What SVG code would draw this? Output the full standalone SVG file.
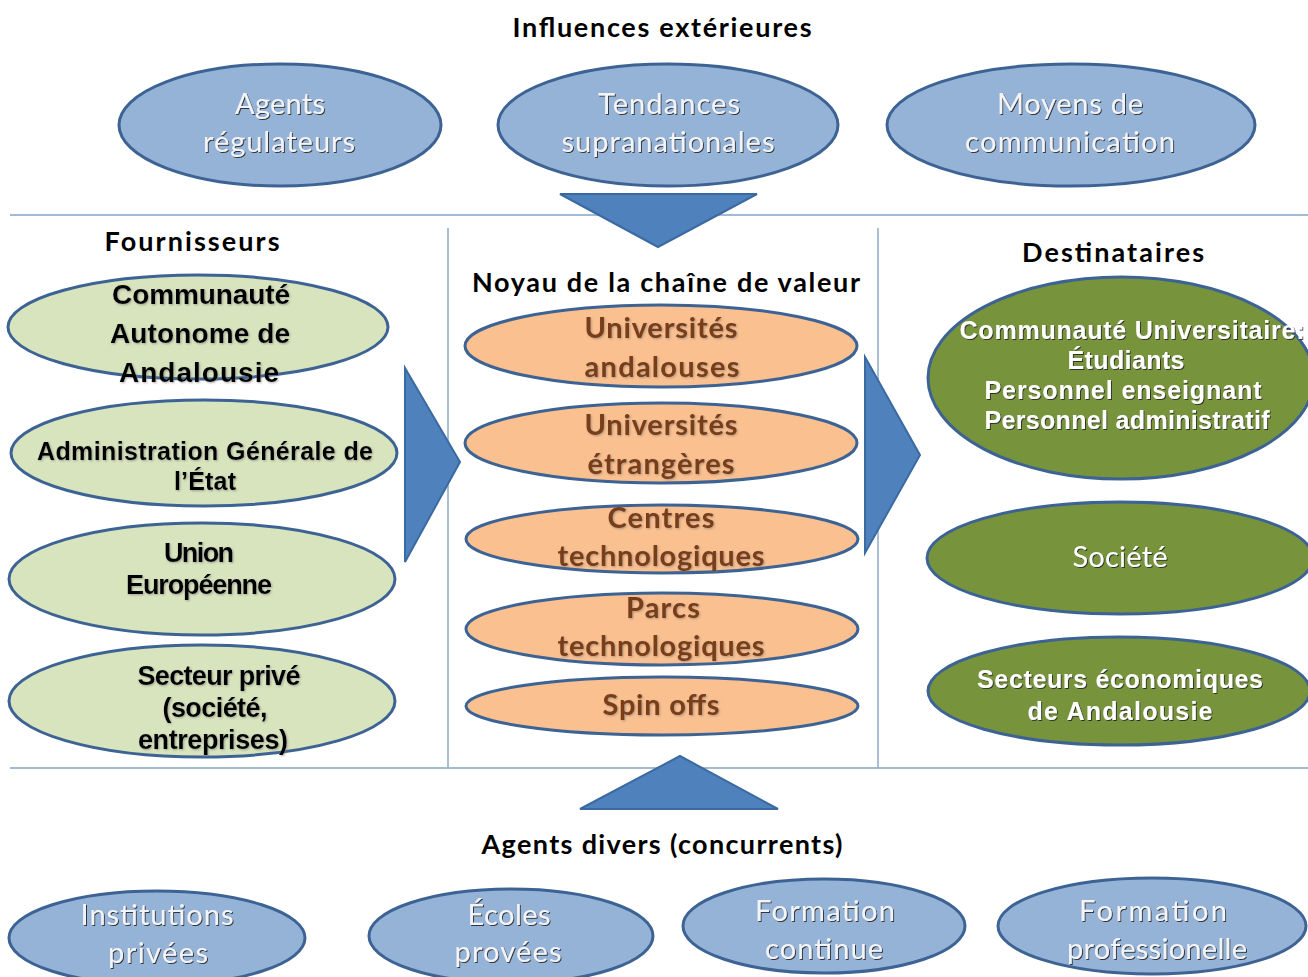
<svg xmlns="http://www.w3.org/2000/svg" width="1308" height="977" viewBox="0 0 1308 977">
<defs>
<filter id="emb" x="-10%" y="-20%" width="120%" height="140%"><feDropShadow dx="1" dy="1" stdDeviation="0.6" flood-color="#2a2a2a" flood-opacity="0.9"/></filter>
<filter id="sh" x="-10%" y="-20%" width="120%" height="140%"><feDropShadow dx="1" dy="1" stdDeviation="0.8" flood-color="#777" flood-opacity="0.6"/></filter>
</defs>
<style>
.blue{fill:#95b3d7;stroke:#3d6394;stroke-width:3}
.lg{fill:#d7e4bd;stroke:#3d6394;stroke-width:3}
.or{fill:#fac08f;stroke:#3d6394;stroke-width:3}
.ol{fill:#77933c;stroke:#3d6394;stroke-width:3}
.arr{fill:#4f81bd;stroke:#3b6aa2;stroke-width:2}
.sep{stroke:#a3bad5;stroke-width:2;fill:none}
.vsep{stroke:#8ea8c8;stroke-width:1.5;fill:none}
.title{font-family:Lato,"Open Sans",sans-serif;font-weight:bold;font-size:27px;fill:#000;text-anchor:middle}
.bt{font-family:Lato,"Open Sans",sans-serif;font-size:29px;fill:#f2f4f8;text-anchor:middle;filter:url(#emb)}
.gt{font-family:"Liberation Sans",Arial,sans-serif;font-weight:bold;font-size:27px;fill:#000;text-anchor:middle;filter:url(#sh)}
.ot{font-family:Lato,"Open Sans",sans-serif;font-weight:bold;font-size:29px;fill:#7a3c16;text-anchor:middle;filter:url(#sh)}
.wt{font-family:"Liberation Sans",Arial,sans-serif;font-weight:bold;font-size:25px;fill:#fff;text-anchor:middle;filter:url(#emb)}
.wc{font-family:Lato,"Open Sans",sans-serif;font-size:29px;fill:#fff;text-anchor:middle;filter:url(#emb)}
</style>
<rect width="1308" height="977" fill="#fff"/>

<g id="separators">
<line class="sep" x1="10" y1="215" x2="1308" y2="215"/>
<line class="sep" x1="10" y1="768" x2="1308" y2="768"/>
<line class="vsep" x1="448" y1="228" x2="448" y2="768"/>
<line class="vsep" x1="878" y1="228" x2="878" y2="768"/>
</g>

<g id="titles">
<text class="title" x="662" y="37" textLength="299">Influences extérieures</text>
<text class="title" x="192" y="251" textLength="175">Fournisseurs</text>
<text class="title" x="666" y="292" textLength="388">Noyau de la chaîne de valeur</text>
<text class="title" x="1113" y="262" textLength="182">Destinataires</text>
<text class="title" x="662" y="854" textLength="361">Agents divers (concurrents)</text>
</g>

<g id="connectors">
<polygon class="arr" points="560,194 757,194 658,247"/>
<polygon class="arr" points="580,809 778,809 680,756"/>
<polygon class="arr" points="405,368 460,462 405,562"/>
<polygon class="arr" points="865,357 920,455 865,553"/>
</g>

<g id="agents-regulateurs">
<ellipse class="blue" cx="280" cy="125" rx="161" ry="61"/>
<text class="bt" x="280" y="114" textLength="90">Agents</text>
<text class="bt" x="279" y="152" textLength="152">régulateurs</text>
</g>
<g id="tendances-supranationales">
<ellipse class="blue" cx="668" cy="125" rx="170" ry="61"/>
<text class="bt" x="669" y="114" textLength="142">Tendances</text>
<text class="bt" x="668" y="152" textLength="213">supranationales</text>
</g>
<g id="moyens-communication">
<ellipse class="blue" cx="1071" cy="125" rx="184" ry="61"/>
<text class="bt" x="1070" y="114" textLength="146">Moyens de</text>
<text class="bt" x="1070" y="152" textLength="210">communication</text>
</g>

<g id="communaute-autonome">
<ellipse class="lg" cx="198" cy="327" rx="190" ry="52"/>
<text class="gt" x="201" y="304" textLength="178" style="font-size:28px">Communauté</text>
<text class="gt" x="200" y="343" textLength="180" style="font-size:28px">Autonome de</text>
<text class="gt" x="199" y="382" textLength="160" style="font-size:28px">Andalousie</text>
</g>
<g id="administration-generale">
<ellipse class="lg" cx="204" cy="453" rx="193" ry="53"/>
<text class="gt" x="205" y="460" textLength="336" style="font-size:25px">Administration Générale de</text>
<text class="gt" x="205" y="490" textLength="62" style="font-size:25px">l’État</text>
</g>
<g id="union-europeenne">
<ellipse class="lg" cx="202" cy="579" rx="193" ry="56"/>
<text class="gt" x="199" y="562" textLength="70">Union</text>
<text class="gt" x="199" y="594" textLength="146">Européenne</text>
</g>
<g id="secteur-prive">
<ellipse class="lg" cx="202" cy="701" rx="193" ry="56"/>
<text class="gt" x="219" y="685" textLength="163">Secteur privé</text>
<text class="gt" x="215" y="717" textLength="105">(société,</text>
<text class="gt" x="213" y="749" textLength="150">entreprises)</text>
</g>

<g id="universites-andalouses">
<ellipse class="or" cx="661" cy="346" rx="196" ry="41"/>
<text class="ot" x="661" y="338" textLength="153">Universités</text>
<text class="ot" x="662" y="377" textLength="155">andalouses</text>
</g>
<g id="universites-etrangeres">
<ellipse class="or" cx="661" cy="443" rx="196" ry="40"/>
<text class="ot" x="661" y="435" textLength="153">Universités</text>
<text class="ot" x="661" y="474" textLength="147">étrangères</text>
</g>
<g id="centres-technologiques">
<ellipse class="or" cx="662" cy="539" rx="196" ry="34"/>
<text class="ot" x="661" y="528" textLength="107">Centres</text>
<text class="ot" x="661" y="566" textLength="207">technologiques</text>
</g>
<g id="parcs-technologiques">
<ellipse class="or" cx="662" cy="629" rx="196" ry="36"/>
<text class="ot" x="663" y="618" textLength="74">Parcs</text>
<text class="ot" x="661" y="656" textLength="207">technologiques</text>
</g>
<g id="spin-offs">
<ellipse class="or" cx="662" cy="706" rx="196" ry="29"/>
<text class="ot" x="661" y="715" textLength="117">Spin offs</text>
</g>

<g id="communaute-universitaire">
<ellipse class="ol" cx="1121" cy="378" rx="193" ry="101"/>
<text class="wt" x="1132" y="339" textLength="345">Communauté Universitaire:</text>
<text class="wt" x="1126" y="369" textLength="117">Étudiants</text>
<text class="wt" x="1123" y="399" textLength="277">Personnel enseignant</text>
<text class="wt" x="1127" y="429" textLength="285">Personnel administratif</text>
</g>
<g id="societe">
<ellipse class="ol" cx="1120" cy="558" rx="193" ry="56"/>
<text class="wc" x="1120" y="567" textLength="95">Société</text>
</g>
<g id="secteurs-economiques">
<ellipse class="ol" cx="1119" cy="691" rx="191" ry="54"/>
<text class="wt" x="1120" y="688" textLength="286">Secteurs économiques</text>
<text class="wt" x="1120" y="720" textLength="185">de Andalousie</text>
</g>

<g id="institutions-privees">
<ellipse class="blue" cx="157" cy="938" rx="148" ry="47"/>
<text class="bt" x="157" y="925" textLength="153">Institutions</text>
<text class="bt" x="158" y="963" textLength="100">privées</text>
</g>
<g id="ecoles-provees">
<ellipse class="blue" cx="511" cy="936" rx="142" ry="47"/>
<text class="bt" x="509" y="925" textLength="83">Écoles</text>
<text class="bt" x="508" y="962" textLength="107">provées</text>
</g>
<g id="formation-continue">
<ellipse class="blue" cx="824" cy="926" rx="141" ry="47"/>
<text class="bt" x="825" y="921" textLength="140">Formation</text>
<text class="bt" x="824" y="959" textLength="118">continue</text>
</g>
<g id="formation-professionelle">
<ellipse class="blue" cx="1152" cy="926" rx="154" ry="48"/>
<text class="bt" x="1153" y="921" textLength="148">Formation</text>
<text class="bt" x="1157" y="959" textLength="180">professionelle</text>
</g>
</svg>
